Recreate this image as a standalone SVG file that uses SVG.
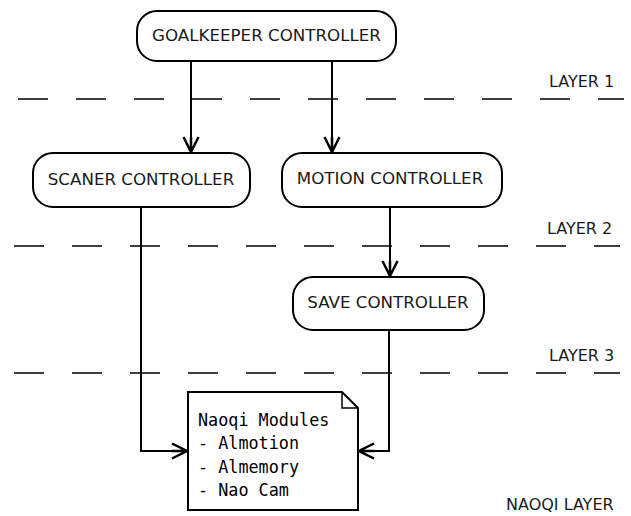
<svg xmlns="http://www.w3.org/2000/svg" width="631" height="516" viewBox="0 0 631 516">
<style>
.box{fill:#fff;stroke:#000;stroke-width:2}
.lbl{font-family:"DejaVu Sans",sans-serif;font-size:16.7px;fill:#1a1a1a}
.lay{font-family:"DejaVu Sans",sans-serif;font-size:16px;fill:#1a1a1a}
.mono{font-family:"DejaVu Sans Mono",monospace;font-size:16.8px;fill:#000}
.con{fill:none;stroke:#000;stroke-width:2}
.dash{stroke:#000;stroke-width:1.5;stroke-dasharray:30 28}
</style>
<defs>
<marker id="arr" markerUnits="userSpaceOnUse" markerWidth="20" markerHeight="20" viewBox="-14 -8 16 16" refX="0" refY="0" orient="auto">
<path d="M-12,-6 L0,0 L-12,6 M-12,0 L0,0" fill="none" stroke="#000" stroke-width="2"/>
</marker>
</defs>
<g id="layers">
<line class="dash" x1="18" y1="99" x2="624" y2="99"/>
<line class="dash" x1="14" y1="246" x2="620" y2="246"/>
<line class="dash" x1="14" y1="373" x2="620" y2="373"/>
<text class="lay" x="549" y="87">LAYER 1</text>
<text class="lay" x="547" y="234">LAYER 2</text>
<text class="lay" x="549" y="361">LAYER 3</text>
<text class="lay" x="506" y="510">NAOQI LAYER</text>
</g>
<g id="connectors">
<line class="con" x1="191" y1="62" x2="191" y2="152" marker-end="url(#arr)"/>
<line class="con" x1="332" y1="62" x2="332" y2="152" marker-end="url(#arr)"/>
<polyline class="con" points="141,207 141,451 187,451" marker-end="url(#arr)"/>
<line class="con" x1="390" y1="207" x2="390" y2="276" marker-end="url(#arr)"/>
<polyline class="con" points="389,330 389,451 359,451" marker-end="url(#arr)"/>
</g>
<g id="goalkeeper">
<rect class="box" x="137" y="11" width="259" height="50" rx="20" ry="20"/>
<text class="lbl" x="266.5" y="41" text-anchor="middle">GOALKEEPER CONTROLLER</text>
</g>
<g id="scaner">
<rect class="box" x="33" y="153" width="217" height="54" rx="20" ry="20"/>
<text class="lbl" x="141" y="185" text-anchor="middle">SCANER CONTROLLER</text>
</g>
<g id="motion">
<rect class="box" x="282" y="153" width="220" height="54" rx="20" ry="20"/>
<text class="lbl" x="390" y="184" text-anchor="middle">MOTION CONTROLLER</text>
</g>
<g id="save">
<rect class="box" x="293" y="277" width="191" height="53" rx="20" ry="20"/>
<text class="lbl" x="388" y="308" text-anchor="middle">SAVE CONTROLLER</text>
</g>
<g id="naoqi">
<path class="box" d="M188,392 L342,392 L358,408 L358,510 L188,510 Z"/>
<path d="M342,392 L342,408 L358,408" fill="none" stroke="#000" stroke-width="1.5"/>
<text class="mono" x="198" y="426">Naoqi Modules</text>
<text class="mono" x="198" y="449">- Almotion</text>
<text class="mono" x="198" y="473">- Almemory</text>
<text class="mono" x="198" y="496">- Nao Cam</text>
</g>
</svg>
